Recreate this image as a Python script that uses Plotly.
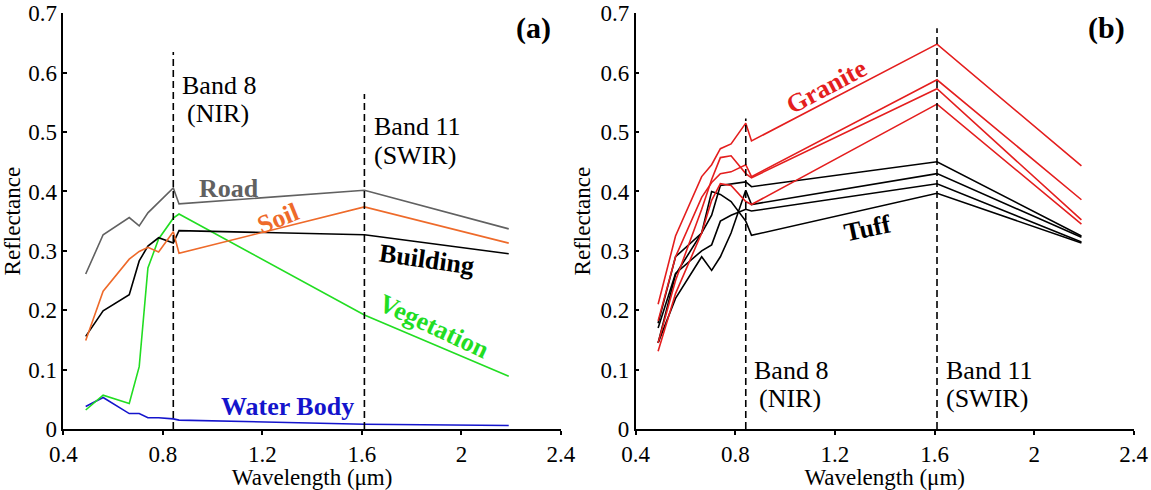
import plotly.graph_objects as go

# Sentinel-2 band centre wavelengths (um)
wavelength = [0.49, 0.56, 0.665, 0.705, 0.74, 0.783, 0.842, 0.865, 1.61, 2.19]

# panel (a)
road = [0.261, 0.327, 0.356, 0.342, 0.364, 0.381, 0.406, 0.379, 0.402, 0.337]
soil = [0.149, 0.232, 0.286, 0.299, 0.306, 0.298, 0.332, 0.296, 0.374, 0.313]
building = [0.156, 0.199, 0.226, 0.283, 0.308, 0.322, 0.313, 0.334, 0.327, 0.295]
vegetation = [0.032, 0.057, 0.043, 0.105, 0.271, 0.320, 0.355, 0.362, 0.192, 0.089]
water_body = [0.038, 0.053, 0.026, 0.026, 0.019, 0.019, 0.017, 0.015, 0.008, 0.006]

# panel (b)
granite = [
    [0.210, 0.325, 0.425, 0.445, 0.472, 0.480, 0.515, 0.485, 0.648, 0.443],
    [0.182, 0.290, 0.390, 0.415, 0.430, 0.433, 0.445, 0.425, 0.588, 0.386],
    [0.145, 0.250, 0.370, 0.420, 0.457, 0.460, 0.430, 0.423, 0.573, 0.352],
    [0.131, 0.228, 0.330, 0.385, 0.413, 0.410, 0.383, 0.378, 0.547, 0.345],
]
tuff = [
    [0.178, 0.290, 0.330, 0.360, 0.410, 0.413, 0.416, 0.408, 0.450, 0.325],
    [0.145, 0.220, 0.290, 0.267, 0.290, 0.330, 0.402, 0.378, 0.430, 0.323],
    [0.170, 0.262, 0.300, 0.310, 0.350, 0.360, 0.370, 0.367, 0.413, 0.315],
    [0.145, 0.260, 0.330, 0.400, 0.395, 0.383, 0.350, 0.326, 0.397, 0.313],
]

band_lines = [0.842, 1.61]
x_ticks = [0.4, 0.8, 1.2, 1.6, 2.0, 2.4]
x_ticktext = ["0.4", "0.8", "1.2", "1.6", "2", "2.4"]
y_ticks = [0, 0.1, 0.2, 0.3, 0.4, 0.5, 0.6, 0.7]
y_ticktext = ["0", "0.1", "0.2", "0.3", "0.4", "0.5", "0.6", "0.7"]

FONT = "Liberation Serif, Times New Roman, DejaVu Serif, serif"
GRAY = "#616161"
ORANGE = "#EE6A2A"
GREEN = "#22DD22"
BLUE = "#1414CC"
RED = "#E41E1E"

fig = go.Figure()


def line(y, color, xa, ya, width=1.6):
    fig.add_trace(go.Scatter(x=wavelength, y=y, mode="lines", xaxis=xa, yaxis=ya,
                             line=dict(color=color, width=width), showlegend=False,
                             hoverinfo="skip"))


line(water_body, BLUE, "x", "y")
line(vegetation, GREEN, "x", "y")
line(building, "black", "x", "y")
line(soil, ORANGE, "x", "y")
line(road, GRAY, "x", "y")
for s in tuff:
    line(s, "black", "x2", "y2")
for s in granite:
    line(s, RED, "x2", "y2")

# dashed band markers
dash_tops = {("x", 0.842): 0.635, ("x", 1.61): 0.564, ("x2", 0.842): 0.523, ("x2", 1.61): 0.675}
for xa, ya in [("x", "y"), ("x2", "y2")]:
    for b in band_lines:
        fig.add_shape(type="line", xref=xa, yref=ya, x0=b, x1=b, y0=0, y1=dash_tops[(xa, b)],
                      line=dict(color="black", width=1.6, dash="7px,4px"))

axis_common = dict(
    range=[0.4, 2.4], tickvals=x_ticks, ticktext=x_ticktext, showgrid=False, zeroline=False,
    showline=True, linecolor="black", linewidth=1.5, ticks="outside", ticklen=4,
    tickcolor="black", tickwidth=1.5, tickfont=dict(family=FONT, size=23, color="black"),
    title=dict(text="Wavelength (μm)", font=dict(family=FONT, size=23, color="black"), standoff=2),
    automargin=False,
)
yaxis_common = dict(
    range=[0, 0.7], tickvals=y_ticks, ticktext=y_ticktext, showgrid=False, zeroline=False,
    showline=True, linecolor="black", linewidth=1.5, ticks="inside", ticklen=4,
    tickcolor="black", tickwidth=1.5, tickfont=dict(family=FONT, size=23, color="black"),
    title=dict(text="Reflectance", font=dict(family=FONT, size=23, color="black"), standoff=4),
    automargin=False,
)

fig.update_layout(
    width=1151, height=490,
    margin=dict(l=0, r=0, t=0, b=0),
    paper_bgcolor="white", plot_bgcolor="white",
    xaxis=dict(domain=[0.055, 0.4874], anchor="y", **axis_common),
    yaxis=dict(domain=[0.1245, 0.9729], anchor="x", **yaxis_common),
    xaxis2=dict(domain=[0.5523, 0.985], anchor="y2", **axis_common),
    yaxis2=dict(domain=[0.1245, 0.9729], anchor="x2", **yaxis_common),
)


def label(text, x, y, color, xa, ya, angle=0, bold=True, size=26, xanchor="center"):
    fig.add_annotation(text=f"<b>{text}</b>" if bold else text, x=x, y=y, xref=xa, yref=ya,
                       showarrow=False, textangle=angle, xanchor=xanchor, yanchor="middle",
                       font=dict(family=FONT, size=size, color=color))


label("(a)", 2.29, 0.675, "black", "x", "y", size=30)
label("(b)", 2.29, 0.675, "black", "x2", "y2", size=30)

label("Road", 1.065, 0.405, GRAY, "x", "y")
label("Soil", 1.263, 0.355, ORANGE, "x", "y", angle=-22)
label("Building", 1.86, 0.285, "black", "x", "y", angle=8)
label("Vegetation", 1.89, 0.172, GREEN, "x", "y", angle=25)
label("Water Body", 1.30, 0.038, BLUE, "x", "y")

label("Band 8", 0.87, 0.579, "black", "x", "y", bold=False, xanchor="left")
label("(NIR)", 0.89, 0.532, "black", "x", "y", bold=False, xanchor="left")
label("Band 11", 1.64, 0.510, "black", "x", "y", bold=False, xanchor="left")
label("(SWIR)", 1.64, 0.461, "black", "x", "y", bold=False, xanchor="left")

label("Granite", 1.167, 0.577, RED, "x2", "y2", angle=-28)
label("Tuff", 1.329, 0.338, "black", "x2", "y2", angle=-12)
label("Band 8", 0.867, 0.099, "black", "x2", "y2", bold=False, xanchor="left")
label("(NIR)", 0.887, 0.052, "black", "x2", "y2", bold=False, xanchor="left")
label("Band 11", 1.637, 0.099, "black", "x2", "y2", bold=False, xanchor="left")
label("(SWIR)", 1.637, 0.052, "black", "x2", "y2", bold=False, xanchor="left")

# drop the default 8px page margin so the figure fills the window exactly
fig.write_html("out.html", config={"displayModeBar": False},
               post_script="document.body.style.margin = '0';")
